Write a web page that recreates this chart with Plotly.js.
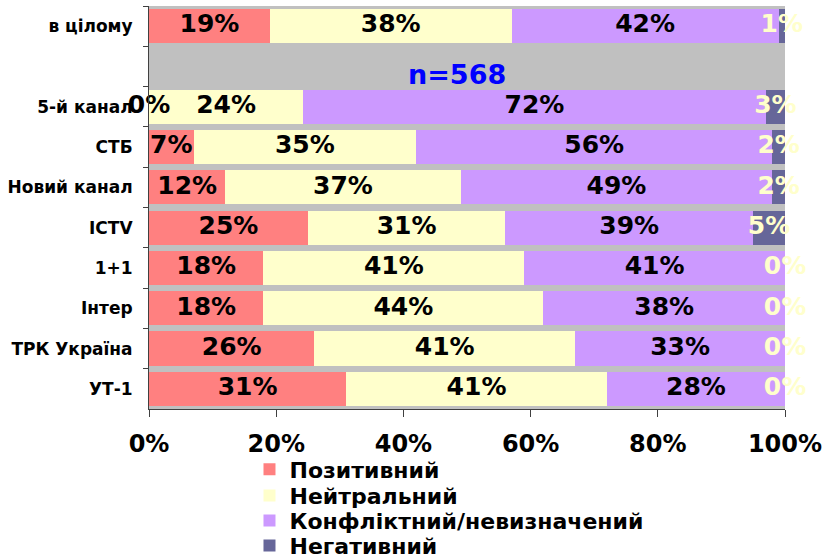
<!DOCTYPE html>
<html>
<head>
<meta charset="utf-8">
<script src="https://cdn.plot.ly/plotly-3.0.1.min.js"></script>
<style>
  html, body { margin: 0; padding: 0; background: #fff; }
  #chart { width: 825px; height: 559px; }
</style>
</head>
<body>
<div id="chart"></div>
<script>
// rows from top to bottom; the blank row holds the sample size note
const categories = ['в цілому', ' ', '5-й канал', 'СТБ', 'Новий канал', 'ICTV', '1+1', 'Інтер', 'ТРК Україна', 'УТ-1'];
const positive = [19, null, 0, 7, 12, 25, 18, 18, 26, 31];
const neutral  = [38, null, 24, 35, 37, 31, 41, 44, 41, 41];
const conflict = [42, null, 72, 56, 49, 39, 41, 38, 33, 28];
const negative = [1, null, 3, 2, 2, 5, 0, 0, 0, 0];
const seriesNames = ['Позитивний', 'Нейтральний', 'Конфліктний/невизначений', 'Негативний'];
const seriesColors = ['#FF8080', '#FFFFCC', '#CC99FF', '#666699'];
const labelColors = ['#000000', '#000000', '#000000', '#FFFFCC'];
const xTicks = [0, 20, 40, 60, 80, 100];
const xTickText = ['0%', '20%', '40%', '60%', '80%', '100%'];
const sampleNote = 'n=568';

const FONT = '"DejaVu Sans", Verdana, sans-serif';
const allSeries = [positive, neutral, conflict, negative];
const legendIds = ['legend', 'legend2', 'legend3', 'legend4'];

const barTraces = allSeries.map((vals, i) => ({
    type: 'bar',
    orientation: 'h',
    name: seriesNames[i],
    legend: legendIds[i],
    y: categories,
    x: vals,
    marker: { color: seriesColors[i], line: { width: 0 } },
    hoverinfo: 'skip'
}));

// value labels sit at the middle of each (normalised) segment
const labelTraces = allSeries.map((vals, i) => {
    const xs = [], ys = [], txt = [];
    categories.forEach((cat, r) => {
        if (vals[r] === null) return;
        const total = allSeries.reduce((s, a) => s + a[r], 0);
        let before = 0;
        for (let k = 0; k < i; k++) before += allSeries[k][r];
        xs.push((before + vals[r] / 2) / total * 100);
        ys.push(cat);
        txt.push(vals[r] + '%');
    });
    return {
        type: 'scatter',
        mode: 'text',
        x: xs,
        y: ys,
        text: txt,
        textposition: 'middle center',
        textfont: { family: FONT, size: 25, weight: 700, color: labelColors[i] },
        cliponaxis: false,
        showlegend: false,
        hoverinfo: 'skip'
    };
});

// one small legend per series so the rows can sit close together
function legendBox(yPos) {
    return {
        orientation: 'v',
        x: 0.158,
        xanchor: 'left',
        y: yPos,
        yanchor: 'middle',
        font: { family: FONT, size: 22, weight: 700 },
        itemwidth: 30,
        bgcolor: 'rgba(0,0,0,0)'
    };
}

const layout = {
    width: 825,
    height: 559,
    margin: { l: 149, r: 40, t: 6, b: 150, autoexpand: false },
    paper_bgcolor: '#ffffff',
    plot_bgcolor: '#C0C0C0',
    barmode: 'stack',
    barnorm: 'percent',
    bargap: 0.15,
    font: { family: FONT, color: '#000000' },
    xaxis: {
        range: [0, 100],
        tickvals: xTicks,
        ticktext: xTickText,
        showgrid: false,
        zeroline: false,
        showline: true,
        linecolor: '#404040',
        linewidth: 1,
        ticks: 'outside',
        ticklen: 7,
        tickcolor: '#404040',
        ticklabelstandoff: 6,
        tickfont: { family: FONT, size: 24, weight: 700 },
        fixedrange: true
    },
    yaxis: {
        type: 'category',
        categoryorder: 'array',
        categoryarray: categories,
        autorange: 'reversed',
        showgrid: false,
        zeroline: false,
        showline: true,
        linecolor: '#404040',
        linewidth: 1,
        ticks: 'outside',
        tickson: 'boundaries',
        ticklen: 5,
        tickcolor: '#404040',
        ticklabelstandoff: 12,
        tickfont: { family: FONT, size: 17, weight: 700 },
        fixedrange: true
    },
    legend: legendBox(-0.150),
    legend2: legendBox(-0.215),
    legend3: legendBox(-0.277),
    legend4: legendBox(-0.339),
    annotations: [{
        x: 48.5,
        y: ' ',
        xref: 'x',
        yref: 'y',
        text: sampleNote,
        showarrow: false,
        yshift: -8,
        font: { family: FONT, size: 27, weight: 700, color: '#0000FF' }
    }],
    showlegend: true
};

Plotly.newPlot('chart', barTraces.concat(labelTraces), layout, { displayModeBar: false, staticPlot: true });
</script>
</body>
</html>
